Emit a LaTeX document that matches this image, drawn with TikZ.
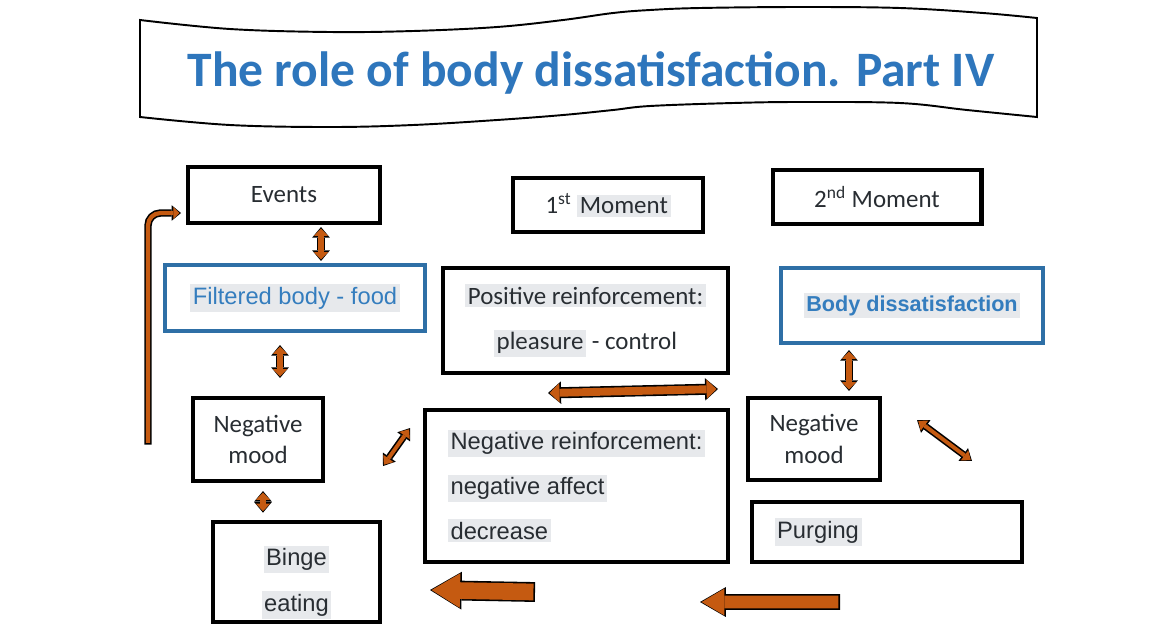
\documentclass[tikz,border=0pt]{standalone}
\usepackage{fontspec}
\usepackage{xcolor}
\usepackage{tikz}
\usetikzlibrary{arrows.meta, calc}
\newfontfamily\calf{Carlito}
\newfontfamily\arf{Liberation Sans}
\definecolor{myorange}{RGB}{197, 90, 17}
\definecolor{myblue}{RGB}{46, 111, 166}
\definecolor{titleblue}{RGB}{46, 118, 188}
\definecolor{textblue}{RGB}{52, 125, 190}
\definecolor{hlgray}{RGB}{231, 233, 236}
\definecolor{ink}{RGB}{40, 45, 50}
\setlength{\fboxsep}{1.5pt}
\newcommand{\hlt}[1]{\colorbox{hlgray}{#1}}

\begin{document}
\begin{tikzpicture}[x=0.02cm, y=-0.02cm,
    box/.style={rectangle, draw=black, line width=2.3pt, text=ink, inner sep=2pt},
    bluebox/.style={box, draw=myblue},
    cal/.style={font=\calf\fontsize{14.2pt}{#1}\selectfont}, cal/.default=18pt,
    ar/.style={font=\arf\fontsize{13.5pt}{#1}\selectfont}, ar/.default=17pt,
    flow/.style n args={4}{>={Triangle[length=#4 1, width=#3 1, line width=0pt]}, #1, draw=myorange, line width=#2,
        shorten >=0.9pt, shorten <=0.9pt,
        preaction={draw=black, line width=#2+1.8pt, shorten >=0pt, shorten <=0pt, #1}}]
    \fill[white] (0,0) rectangle (1165,624);

    % banner
    \draw[line width=1.1pt, fill=white] plot[smooth, tension=0.6] coordinates {(140,20) (230,29) (330,32) (413,31) (497,27) (563,20) (613,13) (650,10) (700,8) (800,7) (900,8) (983,13) (1037,18)}
        -- plot[smooth, tension=0.6] coordinates {(1037,117) (967,110) (900,103) (800,102) (733,103) (650,106) (613,110) (563,115) (497,120) (413,125) (330,127) (230,125) (140,117)} -- cycle;
    \node[font=\calf\bfseries\fontsize{28.2pt}{34pt}\selectfont, text=titleblue, anchor=base] (title) at (591,86) {The role of body dissatisfaction. Part IV};

    % top row
    \node[box, cal, minimum width=3.84cm, minimum height=1.12cm] (ev) at (284,195) {Events};
    \node[box, cal, minimum width=3.8cm, minimum height=1.08cm] (m1) at (608,205) {1\textsuperscript{st} \hlt{Moment}};
    \node[box, cal, minimum width=4.18cm, minimum height=1.08cm] (m2) at (877,197) {2\textsuperscript{nd} Moment};

    % left column
    \node[bluebox, ar, text=textblue, minimum width=5.2cm, minimum height=1.32cm] (fb) at (295,298) {\hlt{Filtered body - food}};
    \node[box, cal, align=center, minimum width=2.6cm, minimum height=1.66cm] (nm1) at (258,439.5) {Negative\\mood};
    \node[box, ar=26pt, align=center, minimum width=3.34cm, minimum height=1.96cm] (be) at (296.5,572) {\rule{0pt}{23pt}\hlt{Binge}\\\hlt{eating}};

    % middle column
    \node[box, cal=26pt, align=center, minimum width=5.7cm, minimum height=2.1cm] (pr) at (585.5,320.5) {\hlt{Positive reinforcement:}\\\hlt{pleasure} - control};
    \node[box, ar=25.5pt, align=left, minimum width=6.06cm, minimum height=3.04cm] (nr) at (576.5,486) {\hlt{Negative reinforcement:}\\\hlt{negative affect}\\\hlt{decrease}};

    % right column
    \node[bluebox, font=\arf\bfseries\fontsize{12.3pt}{15pt}\selectfont, text=textblue, minimum width=5.24cm, minimum height=1.5cm] (bd) at (912,305.5) {\hlt{Body dissatisfaction}};
    \node[box, cal, align=center, minimum width=2.64cm, minimum height=1.64cm] (nm2) at (814,439) {Negative\\mood};
    \node[box, ar, text width=4.5cm, align=left, minimum width=5.4cm, minimum height=1.2cm] (pu) at (887,532) {\hlt{Purging}};

    % arrows
    \draw[flow={<->}{3pt}{5.2pt}{1.2pt}] ($(ev.south)+(37,2)$) -- ($(fb.north)+(26,-2)$);
    \draw[flow={<->}{3pt}{5.2pt}{1.2pt}] ($(fb.south)+(-15,12)$) -- ($(nm1.north)+(22,-18)$);
    \draw[flow={<->}{3pt}{5.2pt}{1.2pt}] ($(nm1.south)+(5,8)$) -- ($(be.north)+(-33.5,-7)$);
    \draw[flow={->}{2.4pt}{4.6pt}{1.1pt}, rounded corners=0.25cm] ($(nm1.west)+(-43,5)$) |- ($(ev.west)+(-5,18)$);
    \draw[flow={<->}{4.5pt}{6.5pt}{1.1pt}] ($(pr.south)+(-37.5,18)$) -- ($(nr.north)+(141.5,-19)$);
    \draw[flow={<->}{2.2pt}{5pt}{2.2pt}] ($(nm1.east)+(58,26.5)$) -- ($(nr.west)+(-13,-58)$);
    \draw[flow={<->}{3pt}{5.2pt}{1.2pt}] ($(bd.south)+(-63,5)$) -- ($(nm2.north)+(35,-5)$);
    \draw[flow={<->}{2.2pt}{5pt}{2.2pt}] ($(nm2.east)+(35,-19)$) -- ($(pu.north)+(85,-39)$);
    \draw[flow={->}{9.5pt}{10.2pt}{6.7pt}] ($(nr.south)+(-41.5,28)$) -- ($(be.east)+(48,18)$);
    \draw[flow={->}{7.2pt}{8pt}{5.7pt}] ($(pu.south)+(-47,38)$) -- ($(nr.south)+(123.5,38)$);
\end{tikzpicture}
\end{document}
